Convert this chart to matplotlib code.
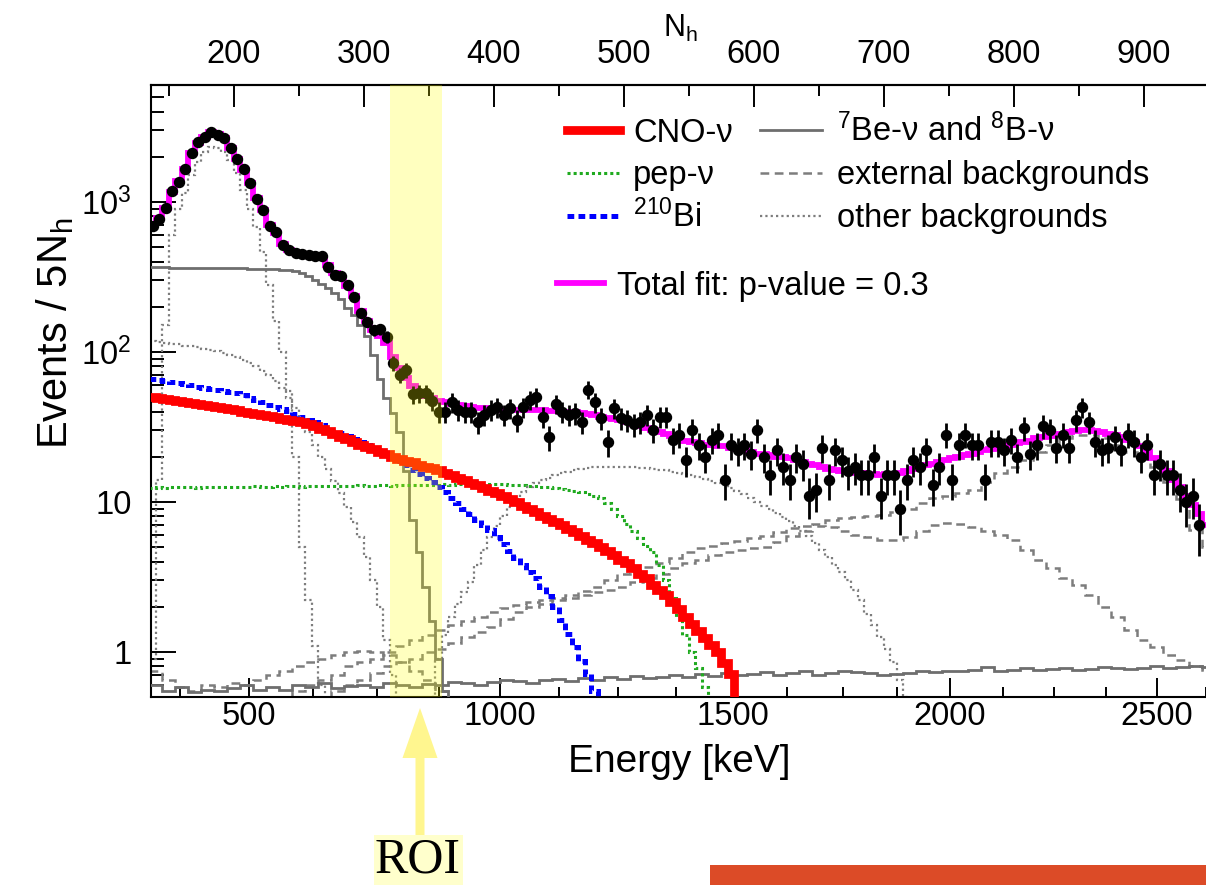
import matplotlib
matplotlib.use("Agg")
import matplotlib.pyplot as plt
from matplotlib.lines import Line2D
from matplotlib.patches import Polygon, Rectangle
from matplotlib.ticker import FixedLocator, NullFormatter, LogLocator
import numpy as np

plt.rcParams['font.family'] = ['Liberation Sans', 'DejaVu Sans']
plt.rcParams['mathtext.fontset'] = 'custom'
plt.rcParams['mathtext.rm'] = 'Liberation Sans'
plt.rcParams['mathtext.it'] = 'Liberation Sans:italic'

W, H = 1206, 885
NH_START = 135      # first bin edge in N_h
FINE = 5            # spectrum binning (Events / 5 N_h)
COARSE = 10         # binning of the external / 8B templates

# measured spectrum, one value per 5 N_h bin starting at N_h = 135
data_counts = [
    692, 770, 912, 1184, 1360, 1660, 2122, 2512, 2712, 2929,
    2797, 2670, 2291, 1935, 1660, 1339, 1047, 885, 692, 631,
    517, 479, 457, 450, 443, 437, 437, 369, 326, 321,
    280, 233, 182, 158, 140, 142, 126, 84, 70, 76,
    52, 53, 53, 47, 40, 40, 46, 41, 40, 40,
    34, 38, 41, 43, 38, 42, 35, 43, 48, 50,
    37, 27, 45, 40, 38, 39, 34, 56, 46, 36,
    25, 42, 36, 35, 33, 34, 38, 30, 37, 37,
    26, 28, 19, 30, 24, 20, 26, 28, 14, 24,
    22, 24, 21, 30, 20, 15, 22, 17, 14, 20,
    18, 11, 12, 23, 14, 22, 19, 16, 17, 15,
    15, 20, 11, 15, 15, 9, 14, 19, 17, 22,
    13, 17, 28, 14, 24, 28, 24, 24, 14, 25,
    25, 22, 26, 20, 31, 21, 24, 32, 30, 23,
    28, 23, 35, 43, 34, 25, 22, 23, 27, 22,
    28, 25, 20, 24, 15, 18, 15, 15, 12, 10,
    11, 7,
]

total_fit = [
    700, 780, 910, 1170, 1370, 1660, 2100, 2480, 2720, 2900,
    2820, 2650, 2300, 1930, 1640, 1340, 1060, 880, 700, 620,
    525, 480, 458, 450, 443, 435, 425, 380, 335, 310,
    275, 235, 188, 160, 140, 128, 115, 92, 78, 67,
    59, 54, 51, 49, 47, 46, 45, 44, 43.5, 43,
    42.5, 42, 41.5, 41.5, 41, 41, 41, 41, 41, 41,
    41, 40.5, 40.5, 40, 40, 39.5, 39, 38.5, 38, 37,
    36, 35.5, 35, 34, 33, 32, 31, 30, 29, 28.5,
    27.5, 26.5, 25.5, 25, 24.5, 24, 24, 23.5, 23.5, 23,
    22.5, 22, 21.5, 21, 21, 20.5, 20, 20, 19.5, 19,
    18.5, 18, 17.5, 17, 16.5, 16.3, 16, 15.8, 15.6, 15.5,
    15.4, 15.3, 15.2, 15.3, 15.4, 15.6, 16, 16.5, 17, 17.5,
    18, 18.5, 19, 19.5, 20, 20.5, 21, 21.5, 22, 22.5,
    23, 23.5, 24, 24.5, 25, 25.5, 26.5, 27, 27.5, 28,
    28.5, 29, 29.5, 30, 30, 29.5, 29, 28.5, 28, 27,
    26, 25, 23.5, 21.5, 19.5, 17.5, 16, 14, 12.6, 11,
    9.5, 8.3, 7,
]

cno = [
    50.1, 49.3, 48.5, 47.7, 46.9, 46.2, 45.4, 44.7, 44.0, 43.3,
    42.7, 42.0, 41.4, 40.7, 40.0, 39.3, 38.5, 37.8, 37.2, 36.5,
    35.8, 35.2, 34.5, 33.9, 33.2, 32.0, 30.8, 29.7, 28.5, 27.0,
    26.1, 25.1, 24.1, 23.2, 22.4, 21.5, 20.7, 20.0, 19.4, 18.8,
    18.3, 17.7, 17.2, 16.7, 16.2, 15.6, 15.0, 14.5, 13.9, 13.4,
    12.9, 12.4, 11.9, 11.5, 10.9, 10.4, 9.9, 9.4, 9.0, 8.5,
    8.1, 7.7, 7.3, 7.0, 6.6, 6.3, 5.9, 5.6, 5.3, 5.0,
    4.7, 4.4, 4.1, 3.9, 3.6, 3.3, 3.1, 2.8, 2.6, 2.4,
    2.15, 1.92, 1.72, 1.54, 1.38, 1.24, 1.11, 1.00, 0.84, 0.71,
]

pep = [
    12.4, 12.5, 12.4, 12.6, 12.5, 12.5, 12.6, 12.4, 12.5, 12.6,
    12.5, 12.6, 12.5, 12.6, 12.6, 12.5, 12.7, 12.6, 12.6, 12.7,
    12.6, 12.7, 12.7, 12.6, 12.7, 12.8, 12.7, 12.7, 12.8, 12.8,
    12.7, 12.8, 12.9, 12.8, 12.8, 12.9, 12.9, 12.8, 12.9, 13.0,
    12.9, 13.0, 13.0, 12.9, 13.0, 13.1, 13.0, 13.1, 13.1, 13.0,
    13.1, 13.1, 13.2, 13.1, 13.1, 13.0, 13.0, 12.9, 12.8, 12.7,
    12.6, 12.5, 12.3, 12.2, 12.0, 11.8, 11.6, 11.3, 11.0, 10.6,
    9.8, 8.9, 8.0, 7.1, 6.4, 5.7, 5.1, 4.6, 3.8, 3.0,
    2.3, 1.7, 1.3, 1.0, 0.78, 0.58,
]

bi210 = [
    66.1, 65.0, 64.0, 62.8, 61.8, 60.7, 59.7, 58.6, 57.7, 56.8,
    55.7, 54.8, 53.8, 53.0, 51.2, 49.4, 47.6, 46.0, 44.5, 43.0,
    41.5, 40.1, 38.5, 36.8, 35.3, 33.8, 32.4, 31.1, 29.8, 28.6,
    27.4, 26.2, 25.1, 24.0, 23.0, 22.0, 21.0, 20.0, 18.7, 17.5,
    16.4, 15.4, 14.4, 13.5, 12.6, 11.6, 10.6, 9.8, 9.0, 8.3,
    7.6, 7.0, 6.5, 5.8, 5.2, 4.7, 4.2, 3.8, 3.4, 3.1,
    2.7, 2.34, 2.0, 1.64, 1.32, 1.07, 0.87, 0.71, 0.55,
]

be7 = [
    366, 365, 365, 364, 364, 364, 363, 363, 363, 362,
    362, 362, 361, 361, 360, 359, 358, 357, 356, 354,
    352, 349, 345, 335, 318, 300, 282, 265, 248, 225,
    195, 175, 150, 128, 95, 66, 49, 39, 29, 16,
    7.6, 4.6, 2.7, 1.6, 0.9, 0.55,
]

po210 = [
    0.9, 14, 150, 600, 900, 1150, 1500, 1850, 2150, 2330,
    2300, 2150, 1900, 1550, 1200, 900, 680, 460, 280, 160,
    100, 55, 20, 5, 2.2, 1.1, 0.6,
]

kr85 = [
    118, 116, 115, 113, 112, 110, 109, 107, 105, 103,
    101, 98, 95, 92, 88, 84, 80, 75, 70, 64,
    57, 49, 42, 35, 29, 24, 20, 16.5, 13.8, 11.5,
    9.2, 7.3, 5.8, 4.3, 3.0, 2.0, 1.2, 0.7,
]

c11_first_bin = 43
c11 = [
    0.5, 0.9, 1.3, 1.7, 2.1, 2.5, 2.9, 3.8, 4.8, 5.8,
    6.9, 8.0, 9.3, 10.5, 11.6, 12.6, 13.4, 14.0, 14.5, 15.0,
    15.5, 15.9, 16.2, 16.5, 16.8, 17.0, 17.1, 17.2, 17.2, 17.2,
    17.1, 17.0, 16.9, 16.8, 16.6, 16.4, 16.2, 15.9, 15.6, 15.3,
    15.0, 14.6, 14.2, 13.8, 13.3, 12.9, 12.4, 11.8, 11.2, 10.6,
    10.0, 9.4, 8.9, 8.4, 7.9, 7.4, 6.9, 6.4, 5.9, 5.3,
    4.8, 4.3, 3.8, 3.4, 3.0, 2.6, 2.2, 1.8, 1.5, 1.25,
    1.05, 0.85, 0.65, 0.5,
]

# 10 N_h templates
b8 = [
    0.6, 0.55, 0.58, 0.54, 0.56, 0.55, 0.57, 0.6, 0.56, 0.58,
    0.56, 0.6, 0.58, 0.62, 0.57, 0.59, 0.6, 0.58, 0.62, 0.6,
    0.58, 0.61, 0.6, 0.63, 0.62, 0.6, 0.63, 0.65, 0.64, 0.62,
    0.65, 0.66, 0.64, 0.67, 0.65, 0.68, 0.66, 0.69, 0.67, 0.68,
    0.7, 0.68, 0.71, 0.69, 0.72, 0.7, 0.71, 0.73, 0.7, 0.72,
    0.74, 0.7, 0.72, 0.75, 0.73, 0.72, 0.7, 0.71, 0.72, 0.74,
    0.73, 0.75, 0.74, 0.76, 0.79, 0.75, 0.76, 0.78, 0.76, 0.77,
    0.78, 0.76, 0.77, 0.79, 0.78, 0.77, 0.78, 0.8, 0.78, 0.79,
    0.8, 0.79,
]

ext_a_first_bin = 10
ext_a = [
    0.5, 0.55, 0.6, 0.65, 0.7, 0.8, 0.85, 0.9, 1.0, 1.1,
    1.2, 1.3, 1.4, 1.5, 1.6, 1.7, 1.85, 1.95, 2.05, 2.15,
    2.2, 2.3, 2.4, 2.55, 2.7, 3.0, 3.3, 3.5, 3.7, 3.9,
    4.2, 4.6, 4.9, 5.1, 5.3, 5.5, 5.7, 5.9, 6.3, 6.7,
    6.9, 6.9, 6.8, 6.4, 6.0, 5.8, 5.6, 5.6, 5.8, 6.4,
    7.0, 7.2, 7.1, 6.8, 6.4, 6.0, 5.6, 4.8, 4.1, 3.6,
    3.1, 2.8, 2.4, 2.0, 1.7, 1.4, 1.2, 1.08, 0.95, 0.88,
    0.8, 0.76,
]

ext_b_first_bin = 13
ext_b = [
    0.5, 0.55, 0.6, 0.65, 0.72, 0.8, 0.85,
    0.9, 1.0, 1.05, 1.15, 1.25, 1.35, 1.47, 1.65, 1.85, 2.0,
    2.1, 2.2, 2.3, 2.4, 2.5, 2.6, 2.7, 2.9, 3.1, 3.3,
    3.6, 3.9, 4.1, 4.4, 4.6, 4.8, 4.9, 5.0, 5.4, 5.9,
    6.4, 7.1, 7.6, 7.8, 7.9, 8.0, 8.2, 8.5, 9.0, 9.8,
    10.6, 11.0, 11.5, 12.0, 13.5, 15.5, 17.0, 19.0, 21.5, 24.0,
    26.5, 28.0, 28.0, 26.5, 24.0, 21.5, 19.5, 17.0, 13.5, 10.5,
    6.5, 5.0,
]

ext_c = [
    0.75, 0.65, 0.58, 0.55, 0.6, 0.58, 0.62, 0.6, 0.65, 0.7,
    0.75, 0.8, 0.85, 0.9, 0.95, 1.0, 1.02, 1.0, 0.95, 0.85,
    0.75, 0.65, 0.55, 0.45,
]

# energy scale drawn on the bottom axis (keV) and where it sits in N_h
energy_major = [500, 1000, 1500, 2000, 2500]
energy_major_nh = [211.5, 404.6, 583.8, 750.8, 910.0]
energy_minor_nh = [158.5, 260.8, 310.0, 357.7, 450.0, 495.4, 540.0,
                   625.4, 668.5, 710.0, 791.5, 830.8, 870.8, 948.0]

nh_major = [200, 300, 400, 500, 600, 700, 800, 900]
nh_minor = [150, 250, 350, 450, 550, 650, 750, 850, 950]

roi_nh = (320, 360)

GRAY = '#6e6e6e'
LGRAY = '#7d7d7d'
EMPTY = 1e-3   # empty bin, lies below the log axis

fig = plt.figure(figsize=(W / 100, H / 100), dpi=100)
ax = fig.add_axes([151 / W, 1 - 697 / H, (1209 - 151) / W, (697 - 85.1) / H])
ax.set_xlim(136.2, 950)
ax.set_yscale('log')
ax.set_ylim(0.5, 6000)


def hist_line(vals, first_bin=0, width=FINE, **kw):
    vals = list(vals) + [EMPTY]
    if first_bin > 0:
        vals = [EMPTY] + vals
        first_bin -= 1
    vals = np.asarray(vals, dtype=float)
    edges = NH_START + width * (first_bin + np.arange(len(vals) + 1))
    ax.stairs(vals, edges, baseline=None, fill=False, **kw)


# other backgrounds
hist_line(po210, ls=(0, (1, 1.4)), lw=1.6, color=LGRAY, zorder=2)
hist_line(kr85, ls=(0, (1, 1.4)), lw=1.6, color=LGRAY, zorder=2)
hist_line(c11, c11_first_bin, ls=(0, (1, 1.4)), lw=1.6, color=LGRAY, zorder=2)
# external backgrounds
hist_line(ext_a, ext_a_first_bin, COARSE, ls=(0, (3.5, 2.2)), lw=1.8, color=LGRAY, zorder=2)
hist_line(ext_b, ext_b_first_bin, COARSE, ls=(0, (3.5, 2.2)), lw=1.8, color=LGRAY, zorder=2)
hist_line(ext_c, 0, COARSE, ls=(0, (3.5, 2.2)), lw=1.8, color=LGRAY, zorder=2)
# 7Be and 8B
hist_line(be7, lw=2.0, color=GRAY, zorder=3)
hist_line(b8, 0, COARSE, lw=2.0, color=GRAY, zorder=3)
# neutrino signals
hist_line(pep, ls=(0, (1, 1)), lw=2.2, color='#1faa1f', zorder=4)
hist_line(bi210, ls=(0, (1.35, 0.85)), lw=3.6, color='#0000ff', zorder=4)
hist_line(cno, lw=6.3, color='#ff0000', zorder=5)
# total fit
hist_line(total_fit, lw=4.2, color='#ff00ff', zorder=6)

# data points with Poisson errors
counts = np.asarray(data_counts, dtype=float)
centers = NH_START + FINE * (np.arange(len(counts)) + 0.5)
ax.errorbar(centers, counts, yerr=np.sqrt(counts), fmt='o', color='black',
            ms=7.2, elinewidth=2.0, capsize=0, zorder=7)

# region of interest
ax.axvspan(*roi_nh, color=(1, 1, 0), alpha=0.25, lw=0, zorder=10)

# axes styling
for side in ['left', 'bottom', 'top', 'right']:
    ax.spines[side].set_linewidth(1.5)

ax.xaxis.set_major_locator(FixedLocator(energy_major_nh))
ax.xaxis.set_minor_locator(FixedLocator(energy_minor_nh))
ax.set_xticklabels([str(e) for e in energy_major])
ax.tick_params(axis='x', which='major', direction='in', length=14, width=1.4,
               labelsize=23.5, pad=3, top=False)
ax.tick_params(axis='x', which='minor', direction='in', length=7, width=1.4, top=False)

ax.yaxis.set_major_locator(FixedLocator([1, 10, 100, 1000]))
ax.set_yticklabels(['1', '10', r'$10^{2}$', r'$10^{3}$'])
ax.yaxis.set_minor_locator(LogLocator(base=10, subs=np.arange(2, 10)))
ax.yaxis.set_minor_formatter(NullFormatter())
ax.tick_params(axis='y', which='major', direction='in', length=18, width=1.4,
               labelsize=23.5, pad=14)
ax.tick_params(axis='y', which='minor', direction='in', length=9, width=1.4)

top = ax.secondary_xaxis('top')
top.xaxis.set_major_locator(FixedLocator(nh_major))
top.xaxis.set_minor_locator(FixedLocator(nh_minor))
top.set_xticklabels([str(n) for n in nh_major])
top.tick_params(axis='x', which='major', direction='in', length=16, width=1.4,
                labelsize=23.5, pad=11)
top.tick_params(axis='x', which='minor', direction='in', length=8, width=1.4)
top.spines['top'].set_linewidth(1.5)

fig.text(680 / W, 1 - 28 / H, r'N$_{\mathrm{h}}$', fontsize=22, ha='center', va='center')
fig.text(679 / W, 1 - 762 / H, 'Energy [keV]', fontsize=28, ha='center', va='center')
fig.text(55 / W, 1 - 333 / H, r'Events / 5N$_{\mathrm{h}}$', fontsize=30,
         rotation=90, ha='center', va='center')


# legend, drawn in figure pixels
def px(x, y):
    return x / W, 1 - y / H


def legend_entry(x0, x1, y, tx, label, **kw):
    (a, b), (c, d) = px(x0, y), px(x1, y)
    fig.add_artist(Line2D([a, c], [b, d], transform=fig.transFigure, **kw))
    fig.text(*px(tx, y + 11.5), label, fontsize=23.5, ha='left', va='baseline')


legend_entry(567, 620, 130, 633, 'CNO-ν', color='#ff0000', lw=6.3)
legend_entry(567, 620, 173, 633, 'pep-ν', color='#1faa1f', lw=2.2, ls=(0, (1, 1)))
legend_entry(567, 620, 216, 633, r'$^{210}$Bi', color='#0000ff', lw=3.6, ls=(0, (1.35, 0.85)))
legend_entry(760, 822, 130, 837, r'$^{7}$Be-ν and $^{8}$B-ν', color=GRAY, lw=2.0)
legend_entry(760, 822, 173, 837, 'external backgrounds', color=LGRAY, lw=1.8, ls=(0, (3.5, 2.2)))
legend_entry(760, 822, 216, 837, 'other backgrounds', color=LGRAY, lw=1.6, ls=(0, (1, 1.4)))
legend_entry(557, 604, 283, 617, 'Total fit: p-value = 0.3', color='#ff00ff', lw=4.2)

# ROI marker below the axis
cx = 420
arrow_pts = [(cx - 4.5, 843), (cx - 4.5, 758), (cx - 17.5, 758), (cx, 708),
             (cx + 17.5, 758), (cx + 4.5, 758), (cx + 4.5, 843)]
fig.add_artist(Polygon([px(x, y) for x, y in arrow_pts], closed=True,
                       transform=fig.transFigure, color='#fff68f', lw=0))
fig.text(*px(418, 860), 'ROI', family='Liberation Serif', fontsize=36,
         ha='center', va='center',
         bbox=dict(facecolor='#ffffcc', edgecolor='none', pad=1))

fig.add_artist(Rectangle(px(710, 885), (W - 710) / W, 20 / H,
                         transform=fig.transFigure, color='#dc4b27', lw=0))

fig.savefig('out.png', dpi=100)
